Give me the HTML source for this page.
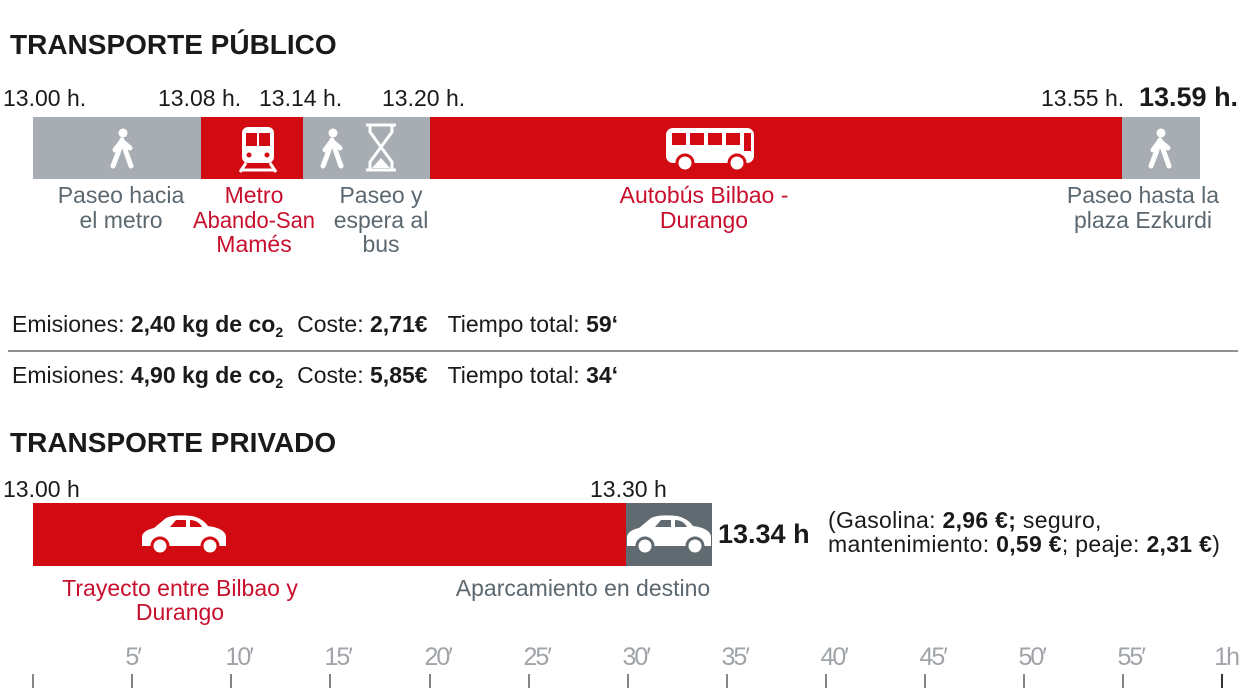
<!DOCTYPE html>
<html><head><meta charset="utf-8"><style>
body{margin:0;background:#fff}
svg{display:block}
text{font-family:"Liberation Sans",sans-serif}
.t{font-size:23px;fill:#1a1a1a}
.g{font-size:23px;fill:#5c6870}
.r{font-size:23px;fill:#c8102e}
.h{font-size:28px;font-weight:bold;fill:#1a1a1a}
.k{font-size:25px;fill:#a0a4a8;letter-spacing:-2px}
</style></head><body>
<svg width="1248" height="700" viewBox="0 0 1248 700">
<defs>
<g id="walk" fill="#fff" stroke="#fff" stroke-linecap="round" stroke-linejoin="round">
<circle cx="0" cy="-17" r="4.5" stroke="none"/>
<path d="M-1,-10 L-5,3 L-10,16 M-1,-10 L3,2 L8,16 M-2,-8 L-8,0 M0,-8 L7,-2" stroke-width="5" fill="none"/>
</g>
<g id="car">
<path d="M-42,12 L-42,2 Q-40,-4 -30,-6 L-18,-16 Q-10,-20 8,-18 Q18,-16 24,-8 Q40,-6 42,2 L42,12 Z" fill="#fff"/>
<path d="M-14,-7 L-8,-14 L2,-14 L2,-7 Z M6,-7 L6,-14 Q14,-14 18,-7 Z" fill="currentColor"/>
<circle cx="-24" cy="12" r="8" fill="#fff" stroke="currentColor" stroke-width="3"/>
<circle cx="26" cy="12" r="8" fill="#fff" stroke="currentColor" stroke-width="3"/>
</g>
</defs>
<text x="10" y="54" class="h">TRANSPORTE PÚBLICO</text>
<text x="3" y="106" class="t">13.00 h.</text>
<text x="158" y="106" class="t">13.08 h.</text>
<text x="259" y="106" class="t">13.14 h.</text>
<text x="382" y="106" class="t">13.20 h.</text>
<text x="1041" y="106" class="t">13.55 h.</text>
<text x="1139" y="106" class="t" style="font-weight:bold;font-size:27px">13.59 h.</text>
<rect x="33" y="117" width="168" height="62" fill="#a7adb2"/>
<rect x="201" y="117" width="102" height="62" fill="#d20a11"/>
<rect x="303" y="117" width="127" height="62" fill="#a7adb2"/>
<rect x="430" y="117" width="692" height="62" fill="#d20a11"/>
<rect x="1122" y="117" width="78" height="62" fill="#a7adb2"/>
<use href="#walk" x="123" y="150"/>
<use href="#walk" x="333" y="150"/>
<use href="#walk" x="1161" y="150"/>
<path d="M366,125 h30 M366,170 h30 M370,125 L370,132 L381,147 L370,162 L370,170 M392,125 L392,132 L381,147 L392,162 L392,170" stroke="#fff" stroke-width="3" fill="none"/>
<path d="M372,168 L381,158 L390,168 Z" fill="#fff"/>
<rect x="242" y="127" width="32" height="36" rx="6" fill="#fff"/>
<rect x="246" y="133" width="11" height="13" fill="#d20a11"/><rect x="259" y="133" width="11" height="13" fill="#d20a11"/>
<circle cx="249" cy="155" r="2.5" fill="#d20a11"/><circle cx="267" cy="155" r="2.5" fill="#d20a11"/>
<path d="M240,172 L246,163 M276,172 L270,163 M241,170 h34" stroke="#fff" stroke-width="3"/>
<rect x="666" y="128" width="88" height="35" rx="7" fill="#fff"/>
<rect x="672" y="133" width="14" height="12" fill="#d20a11"/><rect x="690" y="133" width="14" height="12" fill="#d20a11"/><rect x="708" y="133" width="14" height="12" fill="#d20a11"/><rect x="726" y="133" width="14" height="12" fill="#d20a11"/><rect x="744" y="133" width="7" height="18" fill="#d20a11"/>
<circle cx="685" cy="163" r="8" fill="#fff" stroke="#d20a11" stroke-width="3"/>
<circle cx="737" cy="163" r="8" fill="#fff" stroke="#d20a11" stroke-width="3"/>
<g text-anchor="middle">
<text x="121" y="203" class="g">Paseo hacia</text><text x="121" y="228" class="g">el metro</text>
<text x="254" y="203" class="r">Metro</text><text x="254" y="228" class="r" textLength="122" lengthAdjust="spacingAndGlyphs">Abando-San</text><text x="254" y="252" class="r">Mamés</text>
<text x="381" y="203" class="g">Paseo y</text><text x="381" y="228" class="g">espera al</text><text x="381" y="252" class="g">bus</text>
<text x="704" y="203" class="r">Autobús Bilbao -</text><text x="704" y="228" class="r">Durango</text>
<text x="1143" y="203" class="g">Paseo hasta la</text><text x="1143" y="228" class="g">plaza Ezkurdi</text>
</g>
<text x="12" y="332" class="t">Emisiones: <tspan font-weight="bold">2,40 kg de co</tspan><tspan font-size="14" dy="5" font-weight="bold">2</tspan><tspan dy="-5" dx="14">Coste: </tspan><tspan font-weight="bold">2,71€</tspan><tspan dx="20">Tiempo total: </tspan><tspan font-weight="bold">59‘</tspan></text>
<line x1="8" y1="351" x2="1238" y2="351" stroke="#222" stroke-width="1"/>
<text x="12" y="383" class="t">Emisiones: <tspan font-weight="bold">4,90 kg de co</tspan><tspan font-size="14" dy="5" font-weight="bold">2</tspan><tspan dy="-5" dx="14">Coste: </tspan><tspan font-weight="bold">5,85€</tspan><tspan dx="20">Tiempo total: </tspan><tspan font-weight="bold">34‘</tspan></text>
<text x="10" y="452" class="h">TRANSPORTE PRIVADO</text>
<text x="3" y="497" class="t">13.00 h</text>
<text x="590" y="497" class="t">13.30 h</text>
<rect x="33" y="503" width="593" height="63" fill="#d20a11"/>
<rect x="626" y="503" width="86" height="63" fill="#5f6b71"/>
<use href="#car" x="184" y="534" style="color:#d20a11"/>
<use href="#car" x="669" y="534" style="color:#5f6b71"/>
<text x="718" y="543" class="t" style="font-weight:bold;font-size:27px">13.34 h</text>
<text x="828" y="528" class="t" style="letter-spacing:0.3px">(Gasolina: <tspan font-weight="bold">2,96 €;</tspan> seguro,</text>
<text x="828" y="552" class="t" style="letter-spacing:0.3px">mantenimiento: <tspan font-weight="bold">0,59 €</tspan>; peaje: <tspan font-weight="bold">2,31 €</tspan>)</text>
<g text-anchor="middle">
<text x="180" y="596" class="r">Trayecto entre Bilbao y</text><text x="180" y="620" class="r">Durango</text>
<text x="583" y="596" class="g">Aparcamiento en destino</text>
</g>
<g text-anchor="end">
<text x="140" y="665" class="k">5′</text><text x="252" y="665" class="k">10′</text><text x="351" y="665" class="k">15′</text><text x="451" y="665" class="k">20′</text><text x="550" y="665" class="k">25′</text><text x="649" y="665" class="k">30′</text><text x="748" y="665" class="k">35′</text><text x="847" y="665" class="k">40′</text><text x="946" y="665" class="k">45′</text><text x="1045" y="665" class="k">50′</text><text x="1144" y="665" class="k">55′</text><text x="1238" y="665" class="k">1h</text>
</g>
<g stroke="#333" stroke-width="1.2">
<line x1="33" y1="674" x2="33" y2="688"/><line x1="132" y1="674" x2="132" y2="688"/><line x1="231" y1="674" x2="231" y2="688"/><line x1="330" y1="674" x2="330" y2="688"/><line x1="430" y1="674" x2="430" y2="688"/><line x1="529" y1="674" x2="529" y2="688"/><line x1="628" y1="674" x2="628" y2="688"/><line x1="727" y1="674" x2="727" y2="688"/><line x1="826" y1="674" x2="826" y2="688"/><line x1="925" y1="674" x2="925" y2="688"/><line x1="1024" y1="674" x2="1024" y2="688"/><line x1="1123" y1="674" x2="1123" y2="688"/><line x1="1222" y1="674" x2="1222" y2="688" stroke-width="2"/>
</g>
</svg>
</body></html>
